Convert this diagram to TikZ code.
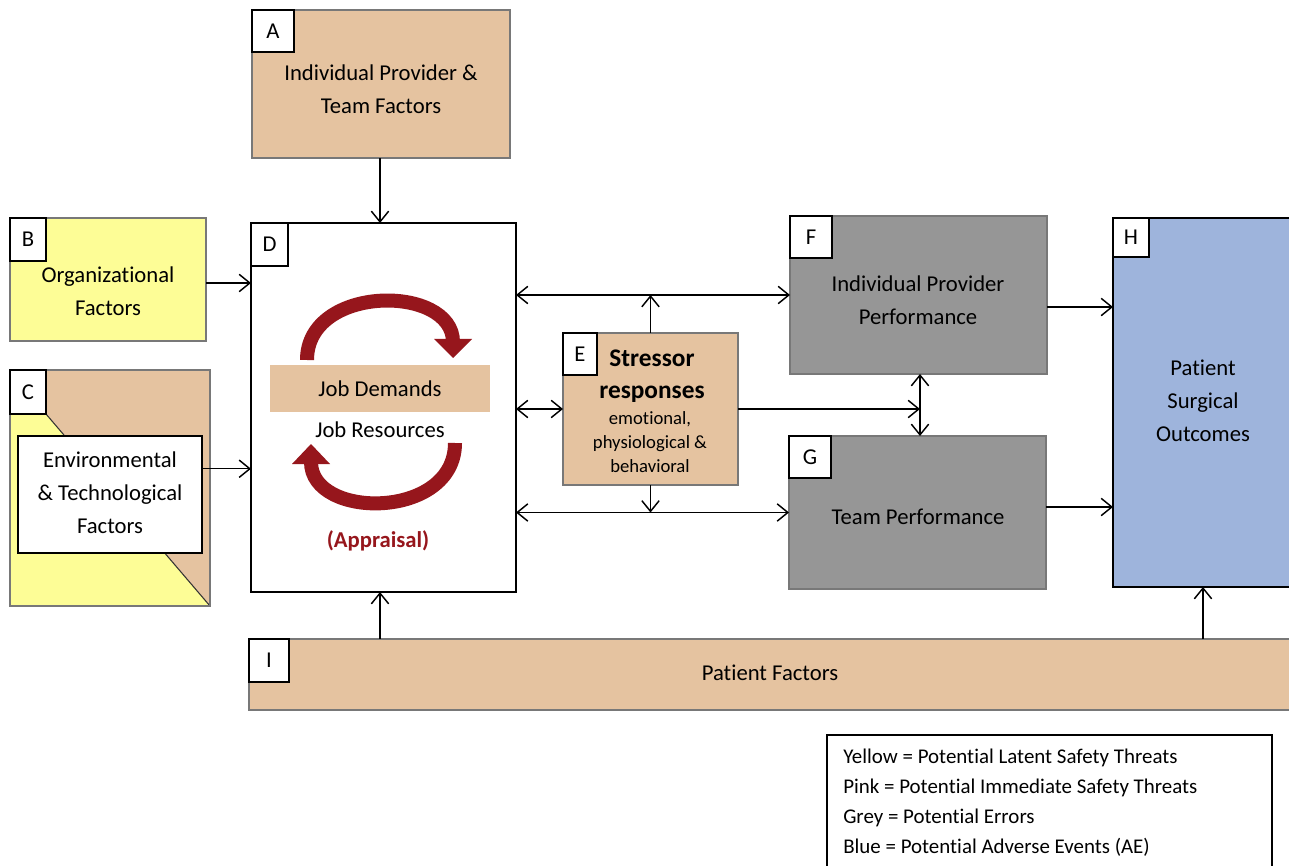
\documentclass[tikz,border=0pt]{standalone}
\usepackage{fontspec}
\setmainfont{Carlito}[Ligatures={NoCommon}]
\usetikzlibrary{arrows.meta,fit,calc}
\definecolor{tan}{RGB}{229,195,160}
\definecolor{ylw}{RGB}{253,253,150}
\definecolor{gry}{RGB}{150,150,150}
\definecolor{blu}{RGB}{158,180,220}
\definecolor{dred}{RGB}{150,22,28}
\definecolor{edge}{RGB}{120,120,120}
\tikzset{
  fitbox/.style={inner sep=0pt, outer sep=0pt},
  softbox/.style={fitbox, draw=edge, line width=0.9pt},
  hardbox/.style={fitbox, draw=black, line width=1.6pt},
  lbl/.style={hardbox, fill=white, font=\fontsize{17}{20}\selectfont},
  txt/.style={align=center, inner sep=0pt, font=\fontsize{17}{24.75}\selectfont},
  conn/.style={line width=1.1pt, -{Straight Barb[length=8pt,width=13pt,line width=1.1pt]}},
  bconn/.style={line width=1.1pt, {Straight Barb[length=8pt,width=13pt,line width=1.1pt]}-{Straight Barb[length=8pt,width=13pt,line width=1.1pt]}},
  cyc/.style={draw=dred, line width=10.5pt},
  cychead/.style={fill=dred, draw=none}
}
\begin{document}
\begin{tikzpicture}[x=0.75pt,y=-0.75pt]
\useasboundingbox (0,0) rectangle (1289,866);
\clip (0,0) rectangle (1289,866);
\fill[white] (0,0) rectangle (1289,866);

% A
\node[softbox, fill=tan, fit={(252,10) (510,158)}] (A) {};
\node[lbl, fit={(252,10) (294,52)}] (Al) {};
\node[font=\fontsize{17}{20}\selectfont] (Alt) at (Al.center) {A};
\node[txt] (At) at (381,89) {Individual Provider \&\\Team Factors};

% B
\node[softbox, fill=ylw, fit={(10,218) (206,341)}] (B) {};
\node[lbl, fit={(10,218) (46,261)}] (Bl) {};
\node[font=\fontsize{17}{20}\selectfont] (Blt) at (Bl.center) {B};
\node[txt] (Bt) at (108,291) {Organizational\\Factors};

% C
\node[softbox, fill=tan, fit={(10,370) (210,606)}] (C) {};
\fill[ylw] (10,414) -- (46,414) -- (210,606) -- (10,606) -- cycle;
\draw[line width=0.8pt, black!80] (46,414) -- (210,606);
\draw[edge, line width=0.9pt] (10,370) rectangle (210,606);
\node[lbl, fit={(10,370) (46,414)}] (Cl) {};
\node[font=\fontsize{17}{20}\selectfont] (Clt) at (Cl.center) {C};
\node[hardbox, fill=white, fit={(18,436) (202,553)}] (Cin) {};
\node[txt] (Ct) at (110,493) {Environmental\\\& Technological\\Factors};

% D
\node[hardbox, fill=white, fit={(251,223) (516,592)}] (D) {};
\node[lbl, fit={(251,223) (288,266)}] (Dl) {};
\node[font=\fontsize{17}{20}\selectfont] (Dlt) at (Dl.center) {D};
\fill[tan] (270,365) rectangle (490,412);
\node[txt] (Dd) at (380,389) {Job Demands};
\node[txt] (Dr) at (380,430) {Job Resources};
\node[txt, text=dred, font=\fontsize{17}{20}\bfseries\selectfont] (Da) at (378,541) {(Appraisal)};
% cycle arrows
\draw[cyc] (307,360) .. controls (307,284) and (453,284) .. (453,342);
\fill[cychead] (434,339) -- (472,339) -- (453,358) -- cycle;
\draw[cyc] (455,443) .. controls (455,520) and (311,520) .. (311,462);
\fill[cychead] (292,464) -- (330,464) -- (311,444) -- cycle;

% E
\node[softbox, fill=tan, fit={(563,333) (738,485)}] (E) {};
\node[lbl, fit={(563,333) (597,375)}] (El) {};
\node[font=\fontsize{17}{20}\selectfont] (Elt) at (El.center) {E};
\node[txt, font=\fontsize{19}{24}\bfseries\selectfont] (Et1) at (652,376) {Stressor\\responses};
\node[txt, font=\fontsize{14}{18}\selectfont] (Et2) at (650,442) {emotional,\\physiological \&\\behavioral};

% F
\node[softbox, fill=gry, fit={(790,216) (1047,374)}] (F) {};
\node[lbl, fit={(790,216) (832,258)}] (Fl) {};
\node[font=\fontsize{17}{20}\selectfont] (Flt) at (Fl.center) {F};
\node[txt] (Ft) at (918,300) {Individual Provider\\Performance};

% G
\node[softbox, fill=gry, fit={(789,436) (1046,589)}] (G) {};
\node[lbl, fit={(789,436) (831,478)}] (Gl) {};
\node[font=\fontsize{17}{20}\selectfont] (Glt) at (Gl.center) {G};
\node[txt] (Gt) at (918,517) {Team Performance};

% H
\node[hardbox, fill=blu, fit={(1113,218) (1293,587)}] (H) {};
\node[lbl, fit={(1113,218) (1149,257)}] (Hl) {};
\node[font=\fontsize{17}{20}\selectfont] (Hlt) at (Hl.center) {H};
\node[txt] (Ht) at (1203,401) {Patient\\Surgical\\Outcomes};

% I
\node[softbox, fill=tan, fit={(249,639) (1293,710)}] (I) {};
\node[lbl, fit={(249,639) (289,682)}] (Il) {};
\node[font=\fontsize{17}{20}\selectfont] (Ilt) at (Il.center) {I};
\node[txt] (It) at (770,673) {Patient Factors};

% Legend
\node[hardbox, fit={(827,735) (1272,875)}] (L) {};
\node[align=left, anchor=west, inner sep=0pt, font=\fontsize{15.7}{22.5}\selectfont] (Lt) at (843,803) {Yellow = Potential Latent Safety Threats\\Pink = Potential Immediate Safety Threats\\Grey = Potential Errors\\Blue = Potential Adverse Events (AE)};

% connectors
\coordinate (ax) at (380,0);
\draw[conn] (A.south -| ax) -- (D.north -| ax);
\draw[conn] (B.east |- 0,283) -- (D.west |- 0,283);
\draw[conn] ($(Cin.north east)!0.28!(Cin.south east)$) coordinate (c1) -- (c1 -| D.west);
\draw[bconn] (D.east |- F.west) -- (F.west);
\draw[bconn] (D.east |- E.west) -- (E.west);
\draw[bconn] (D.east |- G.west) -- (G.west);
\draw[conn] (E.north) -- (E.north |- F.west);
\draw[conn] (E.south) -- (E.south |- G.west);
\coordinate (vx) at (920,0);
\draw[conn] (E.east) -- (E.east -| vx);
\draw[bconn] (F.south -| vx) -- (G.north -| vx);
\draw[conn] ($(F.north east)!0.576!(F.south east)$) coordinate (f1) -- (f1 -| H.west);
\draw[conn] (G.east |- 0,507) -- (H.west |- 0,507);
\draw[conn] (I.north -| ax) -- (D.south -| ax);
\coordinate (hx) at (1203,0);
\draw[conn] (I.north -| hx) -- (H.south -| hx);
\end{tikzpicture}
\end{document}
